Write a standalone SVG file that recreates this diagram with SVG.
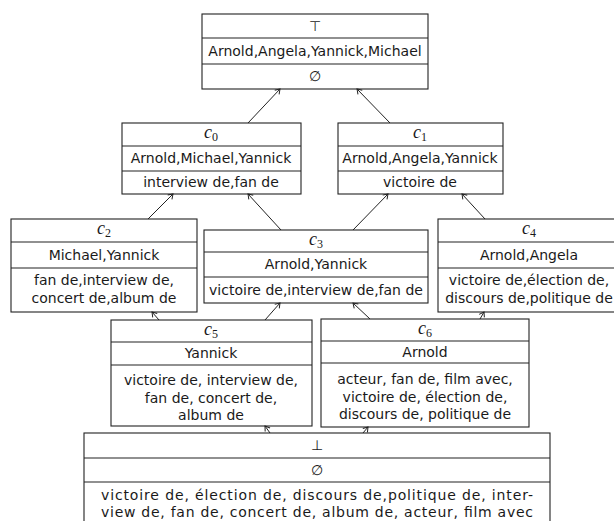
<svg xmlns="http://www.w3.org/2000/svg" width="614" height="521" viewBox="0 0 614 521">
  <style>
    .box { fill: #ffffff; stroke: #222222; stroke-width: 1.1; }
    .sep { stroke: #222222; stroke-width: 1.1; }
    .t { font-family: "DejaVu Sans", "Liberation Sans", sans-serif; font-size: 14px; fill: #1a1a1a; text-anchor: middle; }
    .m { font-family: "Liberation Serif", "DejaVu Serif", serif; font-size: 18px; fill: #1a1a1a; text-anchor: middle; }
    .m .v { font-style: italic; }
    .m .s { font-size: 12px; }
    .edge { stroke: #222222; stroke-width: 1; fill: none; marker-end: url(#arr); }
  </style>
  <defs>
    <marker id="arr" viewBox="-6 -4 8 8" markerWidth="8" markerHeight="8" refX="0" refY="0" orient="auto" markerUnits="userSpaceOnUse">
      <path d="M -4.5 -3 L 0 0 L -4.5 3" fill="none" stroke="#222222" stroke-width="1"/>
    </marker>
  </defs>

  <!-- top concept -->
  <g id="top">
    <rect class="box" x="202" y="14" width="226" height="75"/>
    <line class="sep" x1="202" y1="38" x2="428" y2="38"/>
    <line class="sep" x1="202" y1="64" x2="428" y2="64"/>
    <text class="t" x="315" y="31">⊤</text>
    <text class="t" x="315" y="56">Arnold,Angela,Yannick,Michael</text>
    <text class="t" x="315" y="81">∅</text>
  </g>

  <g id="c0">
    <rect class="box" x="122" y="123" width="179" height="71"/>
    <line class="sep" x1="122" y1="146" x2="301" y2="146"/>
    <line class="sep" x1="122" y1="171" x2="301" y2="171"/>
    <text class="m" x="211" y="138"><tspan class="v">c</tspan><tspan class="s" dy="3">0</tspan></text>
    <text class="t" x="211" y="163">Arnold,Michael,Yannick</text>
    <text class="t" x="211" y="187">interview de,fan de</text>
  </g>

  <g id="c1">
    <rect class="box" x="338" y="123" width="165" height="71"/>
    <line class="sep" x1="338" y1="146" x2="503" y2="146"/>
    <line class="sep" x1="338" y1="171" x2="503" y2="171"/>
    <text class="m" x="420" y="138"><tspan class="v">c</tspan><tspan class="s" dy="3">1</tspan></text>
    <text class="t" x="420" y="163">Arnold,Angela,Yannick</text>
    <text class="t" x="420" y="187">victoire de</text>
  </g>

  <g id="c2">
    <rect class="box" x="11" y="219" width="186" height="93"/>
    <line class="sep" x1="11" y1="242" x2="197" y2="242"/>
    <line class="sep" x1="11" y1="268" x2="197" y2="268"/>
    <text class="m" x="104" y="234"><tspan class="v">c</tspan><tspan class="s" dy="3">2</tspan></text>
    <text class="t" x="104" y="260">Michael,Yannick</text>
    <text class="t" x="104" y="285">fan de,interview de,</text>
    <text class="t" x="104" y="303">concert de,album de</text>
  </g>

  <g id="c3">
    <rect class="box" x="204" y="230" width="224" height="73"/>
    <line class="sep" x1="204" y1="252" x2="428" y2="252"/>
    <line class="sep" x1="204" y1="277" x2="428" y2="277"/>
    <text class="m" x="316" y="245"><tspan class="v">c</tspan><tspan class="s" dy="3">3</tspan></text>
    <text class="t" x="316" y="269">Arnold,Yannick</text>
    <text class="t" x="316" y="295">victoire de,interview de,fan de</text>
  </g>

  <g id="c4">
    <rect class="box" x="438" y="219" width="182" height="93"/>
    <line class="sep" x1="438" y1="242" x2="620" y2="242"/>
    <line class="sep" x1="438" y1="268" x2="620" y2="268"/>
    <text class="m" x="529" y="234"><tspan class="v">c</tspan><tspan class="s" dy="3">4</tspan></text>
    <text class="t" x="529" y="260">Arnold,Angela</text>
    <text class="t" x="529" y="285">victoire de,élection de,</text>
    <text class="t" x="529" y="303">discours de,politique de</text>
  </g>

  <g id="c5">
    <rect class="box" x="111" y="320" width="201" height="106"/>
    <line class="sep" x1="111" y1="342" x2="312" y2="342"/>
    <line class="sep" x1="111" y1="365" x2="312" y2="365"/>
    <text class="m" x="211" y="335"><tspan class="v">c</tspan><tspan class="s" dy="3">5</tspan></text>
    <text class="t" x="211" y="358">Yannick</text>
    <text class="t" x="211" y="385">victoire de, interview de,</text>
    <text class="t" x="211" y="403">fan de, concert de,</text>
    <text class="t" x="211" y="420">album de</text>
  </g>

  <g id="c6">
    <rect class="box" x="321" y="319" width="208" height="108"/>
    <line class="sep" x1="321" y1="341" x2="529" y2="341"/>
    <line class="sep" x1="321" y1="363" x2="529" y2="363"/>
    <text class="m" x="425" y="334"><tspan class="v">c</tspan><tspan class="s" dy="3">6</tspan></text>
    <text class="t" x="425" y="357">Arnold</text>
    <text class="t" x="425" y="384">acteur, fan de, film avec,</text>
    <text class="t" x="425" y="402">victoire de, élection de,</text>
    <text class="t" x="425" y="419">discours de, politique de</text>
  </g>

  <!-- bottom concept, justified paragraph -->
  <g id="bottom">
    <rect class="box" x="84" y="433" width="466" height="100"/>
    <line class="sep" x1="84" y1="458" x2="550" y2="458"/>
    <line class="sep" x1="84" y1="482" x2="550" y2="482"/>
    <text class="t" x="317" y="450">⊥</text>
    <text class="t" x="317" y="475">∅</text>
    <text class="t" x="317" y="500" textLength="432" lengthAdjust="spacing">victoire de, élection de, discours de,politique de, inter-</text>
    <text class="t" x="317" y="517" textLength="432" lengthAdjust="spacing">view de, fan de, concert de, album de, acteur, film avec</text>
  </g>

  <g id="connectors">
    <line class="edge" x1="248" y1="123" x2="280" y2="89"/>
    <line class="edge" x1="390" y1="123" x2="357" y2="89"/>
    <line class="edge" x1="148" y1="219" x2="173" y2="194"/>
    <line class="edge" x1="281" y1="230" x2="248" y2="194"/>
    <line class="edge" x1="353" y1="230" x2="388" y2="194"/>
    <line class="edge" x1="485" y1="219" x2="462" y2="194"/>
    <line class="edge" x1="159" y1="320" x2="152" y2="312"/>
    <line class="edge" x1="265" y1="320" x2="280" y2="303"/>
    <line class="edge" x1="370" y1="319" x2="353" y2="303"/>
    <line class="edge" x1="480" y1="319" x2="484" y2="312"/>
    <line class="edge" x1="270" y1="433" x2="265" y2="426"/>
    <line class="edge" x1="363" y1="433" x2="368" y2="427"/>
  </g>
</svg>
